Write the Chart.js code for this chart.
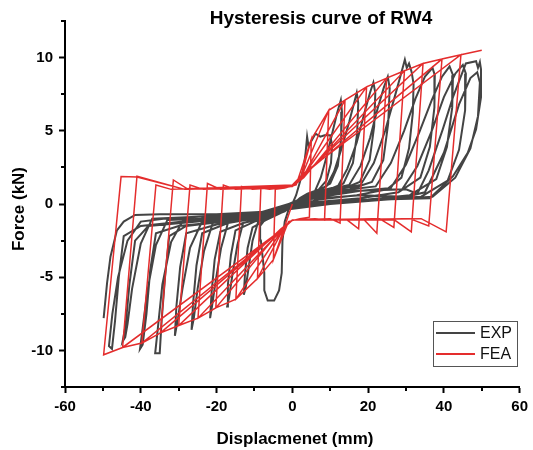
<!DOCTYPE html>
<html>
<head>
<meta charset="utf-8">
<script src="https://cdn.jsdelivr.net/npm/chart.js@4.4.0/dist/chart.umd.min.js"></script>
<style>
  html, body { margin: 0; padding: 0; background: #fff; }
  #wrap { width: 533px; height: 450px; }
</style>
</head>
<body>
<div id="wrap"><canvas id="rw4" width="533" height="450"></canvas></div>
<script>
// ---- data (displacement mm, force kN) ----
const chartTitle = "Hysteresis curve of RW4";
const xTitle = "Displacmenet (mm)";
const yTitle = "Force (kN)";
const xTickLabels = [-60, -40, -20, 0, 20, 40, 60];
const yTickLabels = [-10, -5, 0, 5, 10];
const seriesNames = ["EXP", "FEA"];

// test curve (grey)
const expCurve = [
  [0,0],[1,0.6],[2,1.5],[3,2.5],[3.5,3.5],[3.9,4.6],[4.3,3.9],[4.8,4.2],[6.1,4.8],[7.4,4.6],[8.5,4.7],[10,4.7],[10.5,4.0],[10.2,2.8],[9,1.6],[7,1.0],[4,0.6],[1,0.1],
  [-1,-0.4],[-2,-1.2],[-2.6,-2.5],[-2.8,-4.7],[-3.5,-5.9],[-4.8,-6.6],[-6.5,-6.6],[-7.4,-5.9],[-7.4,-4.7],[-8.3,-2.5],[-8.5,-1.5],[-7,-1.0],[-4,-0.7],[-1,-0.3],[2,0.4],[4,0.7],
  [6,0.9],[7.5,1.8],[9,3.2],[10.5,4.8],[11.8,6.2],[12.8,7.1],[13.1,6.3],[12.9,4.5],[12,2.6],[10,1.4],[6,0.8],[2,0.3],[-2,-0.5],[-6,-0.9],[-9,-1.2],
  [-10.5,-2.5],[-11.5,-4.3],[-12.3,-5.7],[-12.8,-6.2],[-12.5,-4.8],[-11.8,-3.0],[-10.5,-1.6],[-7,-1.1],[-3,-0.6],[1,0.2],[5,0.7],
  [9,1.2],[11,2.2],[13,3.8],[15,5.6],[16.3,6.9],[17,7.6],[17.4,6.9],[17.1,4.8],[16,2.8],[13.5,1.4],[8,0.8],[3,0.3],[-3,-0.6],[-9,-1.0],[-13,-1.3],
  [-14.5,-2.8],[-15.8,-4.8],[-16.7,-6.4],[-17.2,-7.0],[-17,-5.5],[-16.2,-3.5],[-15,-1.8],[-10,-1.2],[-5,-0.8],[0,0.1],[6,0.8],
  [12,1.2],[14.5,2.4],[17,4.2],[19,6.2],[20.5,7.6],[21.4,8.3],[21.9,7.6],[21.6,5.3],[20.4,3.0],[17.8,1.5],[12,0.9],[5,0.4],[-4,-0.6],[-12,-1.0],[-17,-1.3],
  [-18.8,-3.0],[-20.2,-5.2],[-21.2,-7.0],[-21.7,-7.8],[-21.3,-6.0],[-20.5,-3.8],[-19,-1.9],[-13,-1.3],[-6,-0.9],[0,0.1],[8,0.9],
  [15,1.3],[18,2.6],[20.5,4.5],[22.5,6.5],[24.2,8.0],[25.2,8.7],[25.7,7.9],[25.3,5.5],[24,3.0],[21,1.5],[14,0.9],[6,0.4],[-5,-0.6],[-14,-1.0],[-21,-1.3],
  [-23.3,-3.2],[-25,-5.8],[-26,-7.8],[-26.6,-8.6],[-26.2,-6.8],[-25.3,-4.2],[-23.8,-2.0],[-17,-1.3],[-8,-0.9],[0,0.1],[10,0.9],
  [18,1.3],[21.5,2.8],[24.5,5.0],[27,7.3],[28.7,8.9],[29.7,9.86],[30.2,9.3],[30.8,9.6],[31.5,9.0],[32,8.2],[31.8,6.2],[30.8,3.8],[28.8,1.8],[25,1.0],[17,0.6],[7,0.3],
  [-5,-0.6],[-15,-1.0],[-24,-1.3],[-27,-3.0],[-29,-5.8],[-30.3,-8.0],[-31,-9.0],[-30.6,-7.0],[-29.6,-4.3],[-28,-2.0],[-20,-1.4],[-10,-1.0],[0,0.1],[12,0.9],
  [22,1.2],[26,2.8],[29.5,5.0],[32.5,7.2],[35,8.7],[37,9.3],[37.6,8.8],[37.5,6.6],[36.3,3.9],[33.8,1.8],[28,0.8],[18,0.4],[5,0.1],[-8,-0.7],[-20,-1.0],[-29,-1.2],
  [-32,-2.6],[-34.3,-5.5],[-35.5,-8.5],[-36.2,-10.2],[-35,-10.2],[-34.5,-8.0],[-33.6,-5.0],[-32.5,-2.2],[-28,-1.5],[-18,-1.2],[-8,-0.8],[2,0.2],[14,0.8],
  [26,1.1],[30,2.7],[33.5,4.9],[36.8,7.1],[39.5,8.7],[41.5,9.4],[42.4,8.8],[42.2,6.6],[40.8,3.9],[38,1.7],[31,0.6],[20,0.3],[5,0.0],[-10,-0.7],[-24,-1.0],[-33,-1.1],
  [-36,-2.8],[-38.3,-6.0],[-39.5,-8.5],[-40.2,-9.9],[-39.5,-9.6],[-38.5,-7.5],[-37.5,-4.5],[-36,-2.0],[-30,-1.5],[-18,-1.2],[-6,-0.7],[4,0.3],[16,0.9],
  [29,1.0],[33,2.6],[36.8,5.0],[40,7.3],[43,8.9],[45,9.5],[45.8,8.9],[45.6,6.4],[44,3.7],[41,1.6],[34,0.5],[22,0.3],[5,-0.1],[-12,-0.7],[-28,-0.9],[-37,-1.0],
  [-40,-2.7],[-42.3,-5.8],[-43.5,-8.2],[-44.1,-9.1],[-44.8,-9.4],[-44,-8.3],[-43,-5.5],[-41.5,-2.5],[-38,-1.5],[-25,-1.2],[-10,-0.8],[3,0.3],[18,0.9],[30,1.0],
  [33,0.7],[36,2.3],[39.7,5.1],[42.4,7.3],[45.8,9.6],[48.5,9.75],[49,9.3],[49.5,9.7],[49.8,9.2],[49.8,7.3],[48.5,5.1],[46.3,3.5],[42.4,1.9],[36.3,0.4],[23.5,0.3],[10,0.0],
  [-5,-0.5],[-20,-0.8],[-34,-1.0],[-40,-1.2],[-43.5,-2.5],[-46,-5.0],[-47.5,-7.5],[-48.4,-9.7],[-47.6,-9.9],[-46.8,-8.0],[-45.8,-5.0],[-44.5,-2.2],[-40,-1.5],[-25,-1.1],[-10,-0.7],[3,0.3],[18,0.6],[30,0.5],
  [35,0.8],[40,3.5],[44,6.8],[47,8.6],[48.8,9.0],[49.5,8.3],[49,6.0],[47,3.8],[43,1.8],[37,0.5],[25,0.3],[10,0.0],
  [-5,-0.5],[-20,-0.7],[-35,-0.7],[-41.5,-0.75],[-44.5,-1.2],[-46.3,-1.8],[-48,-3.6],[-48.9,-5.4],[-49.8,-7.8]
];

// finite element curve (red)
const feaCurve = [
  [0,0],[-5,-3.8],[-4.5,1.0],[-2,1.1],[1,1.3],[5,4.4],[4.5,-0.9],[2,-1.0],[-1,-1.2],
  [-5,-3.8],[-9.2,-5.1],[-8.3,1.1],[-6,1.0],[0,1.2],[2,1.6],[5,4.4],[9.6,6.4],[8.5,-1.1],[6,-1.0],[0,-1.1],[-2,-1.5],
  [-9.2,-5.1],[-14.9,-6.5],[-13.4,1.2],[-10.5,1.0],[0,1.2],[2,1.6],[9.6,6.4],[13.9,7.1],[12.6,-1.3],[10,-1.0],[0,-1.1],[-2,-1.5],
  [-14.9,-6.5],[-20.2,-7.1],[-18.2,1.3],[-15,1.0],[0,1.2],[2.5,1.7],[13.9,7.1],[19.6,8.0],[17.5,-1.7],[14.5,-1.1],[0,-1.1],[-2.5,-1.6],
  [-20.2,-7.1],[-24.9,-7.8],[-22.4,1.4],[-19,1.0],[0,1.2],[2.5,1.8],[19.6,8.0],[24.9,8.6],[22.3,-2.0],[19,-1.1],[0,-1.1],[-2.5,-1.7],
  [-24.9,-7.8],[-30,-8.3],[-27,1.3],[-23.5,1.0],[0,1.2],[3,1.8],[24.9,8.6],[29.6,9.1],[26.8,-1.6],[23,-1.0],[0,-1.1],[-3,-1.7],
  [-30,-8.3],[-34.8,-8.8],[-31.4,1.64],[-27.5,1.0],[0,1.25],[3,1.9],[29.6,9.1],[34.5,9.6],[31.4,-1.9],[27,-1.1],[0,-1.1],[-3,-1.8],
  [-34.8,-8.8],[-39.7,-9.5],[-36,1.3],[-32,1.0],[0,1.3],[3,2.0],[34.5,9.6],[39.5,9.9],[36,-1.5],[31,-1.0],[0,-1.1],[-3,-1.8],
  [-39.7,-9.5],[-44.8,-9.8],[-41,1.9],[-28.4,1.0],[0,1.3],[3,2.0],[39.5,9.9],[44.5,10.2],[40.6,-1.9],[34,-1.0],[0,-1.1],[-3,-1.8],
  [-44.8,-9.8],[-49.8,-10.3],[-45.2,1.87],[-41,1.85],[-28.4,1.0],[0,1.3],[3,2.1],[44.5,10.2],[50,10.5]
];

const expColor = "rgb(68,68,68)";
const feaColor = "rgb(228,45,45)";
const FONT = '"Liberation Sans", Arial, sans-serif';

function toXY(list) {
  return list.map(function (p) { return { x: p[0], y: p[1] }; });
}

// titles, legend box and the short minor ticks
const decor = {
  id: "decor",
  afterDraw: function (chart) {
    const c = chart.ctx;
    const xs = chart.scales.x, ys = chart.scales.y;
    const area = chart.chartArea;
    c.save();

    // minor ticks
    c.strokeStyle = "#000";
    c.lineWidth = 2;
    for (let v = -50; v <= 50; v += 20) {
      const px = Math.round(xs.getPixelForValue(v));
      c.beginPath(); c.moveTo(px, area.bottom); c.lineTo(px, area.bottom + 4); c.stroke();
    }
    [-12.5, -7.5, -2.5, 2.5, 7.5, 12.5].forEach(function (v) {
      const py = Math.round(ys.getPixelForValue(v));
      c.beginPath(); c.moveTo(area.left, py); c.lineTo(area.left - 4, py); c.stroke();
    });

    // titles
    c.fillStyle = "#000";
    c.textAlign = "center";
    c.textBaseline = "middle";
    c.font = "bold 19px " + FONT;
    c.fillText(chartTitle, 321, 19);
    c.font = "bold 17px " + FONT;
    c.fillText(xTitle, 295, 439);
    c.save();
    c.translate(19, 209);
    c.rotate(-Math.PI / 2);
    c.fillText(yTitle, 0, 0);
    c.restore();

    // legend
    const bx = 433, by = 321, bw = 84, bh = 45;
    c.fillStyle = "#fff";
    c.fillRect(bx, by, bw, bh);
    c.strokeStyle = "#555";
    c.lineWidth = 1;
    c.strokeRect(bx + 0.5, by + 0.5, bw, bh);
    const rows = [[seriesNames[0], expColor, 333], [seriesNames[1], feaColor, 354]];
    c.font = "16px " + FONT;
    c.textAlign = "left";
    rows.forEach(function (r) {
      c.strokeStyle = r[1];
      c.lineWidth = 2;
      c.beginPath(); c.moveTo(436, r[2]); c.lineTo(475, r[2]); c.stroke();
      c.fillStyle = "#111";
      c.fillText(r[0], 480, r[2] + 1);
    });
    c.restore();
  }
};

const tickFont = { family: FONT, size: 15, weight: "bold" };

new Chart(document.getElementById("rw4"), {
  type: "scatter",
  data: {
    datasets: [
      {
        label: seriesNames[1],
        data: toXY(feaCurve),
        showLine: true,
        borderColor: feaColor,
        borderWidth: 1.5,
        pointRadius: 0,
        tension: 0,
        order: 0
      },
      {
        label: seriesNames[0],
        data: toXY(expCurve),
        showLine: true,
        borderColor: expColor,
        borderWidth: 2,
        pointRadius: 0,
        tension: 0,
        order: 1
      }
    ]
  },
  options: {
    responsive: false,
    animation: false,
    events: [],
    layout: { padding: { top: 21, right: 8, left: 0, bottom: 0 } },
    plugins: {
      legend: { display: false },
      tooltip: { enabled: false },
      title: { display: false }
    },
    scales: {
      x: {
        type: "linear",
        position: "bottom",
        min: -60,
        max: 60,
        afterFit: function (s) { s.height = 63; },
        border: { display: true, color: "#000", width: 2 },
        grid: {
          drawOnChartArea: false,
          drawTicks: true,
          tickLength: 6,
          tickWidth: 2,
          tickColor: function (ctx) {
            return ctx.tick && xTickLabels.includes(ctx.tick.value) ? "#000" : "rgba(0,0,0,0)";
          }
        },
        ticks: {
          stepSize: 10,
          autoSkip: false,
          maxRotation: 0,
          padding: 5,
          color: "#000",
          font: tickFont,
          callback: function (v) { return xTickLabels.includes(v) ? String(v) : ""; }
        }
      },
      y: {
        type: "linear",
        position: "left",
        min: -12.5,
        max: 12.5,
        afterFit: function (s) { s.width = 65; },
        border: { display: true, color: "#000", width: 2 },
        grid: {
          drawOnChartArea: false,
          drawTicks: true,
          tickLength: 6,
          tickWidth: 2,
          tickColor: function (ctx) {
            return ctx.tick && yTickLabels.includes(ctx.tick.value) ? "#000" : "rgba(0,0,0,0)";
          }
        },
        ticks: {
          stepSize: 2.5,
          autoSkip: false,
          padding: 6,
          color: "#000",
          font: tickFont,
          callback: function (v) { return yTickLabels.includes(v) ? String(v) : ""; }
        }
      }
    }
  },
  plugins: [decor]
});
</script>
</body>
</html>
